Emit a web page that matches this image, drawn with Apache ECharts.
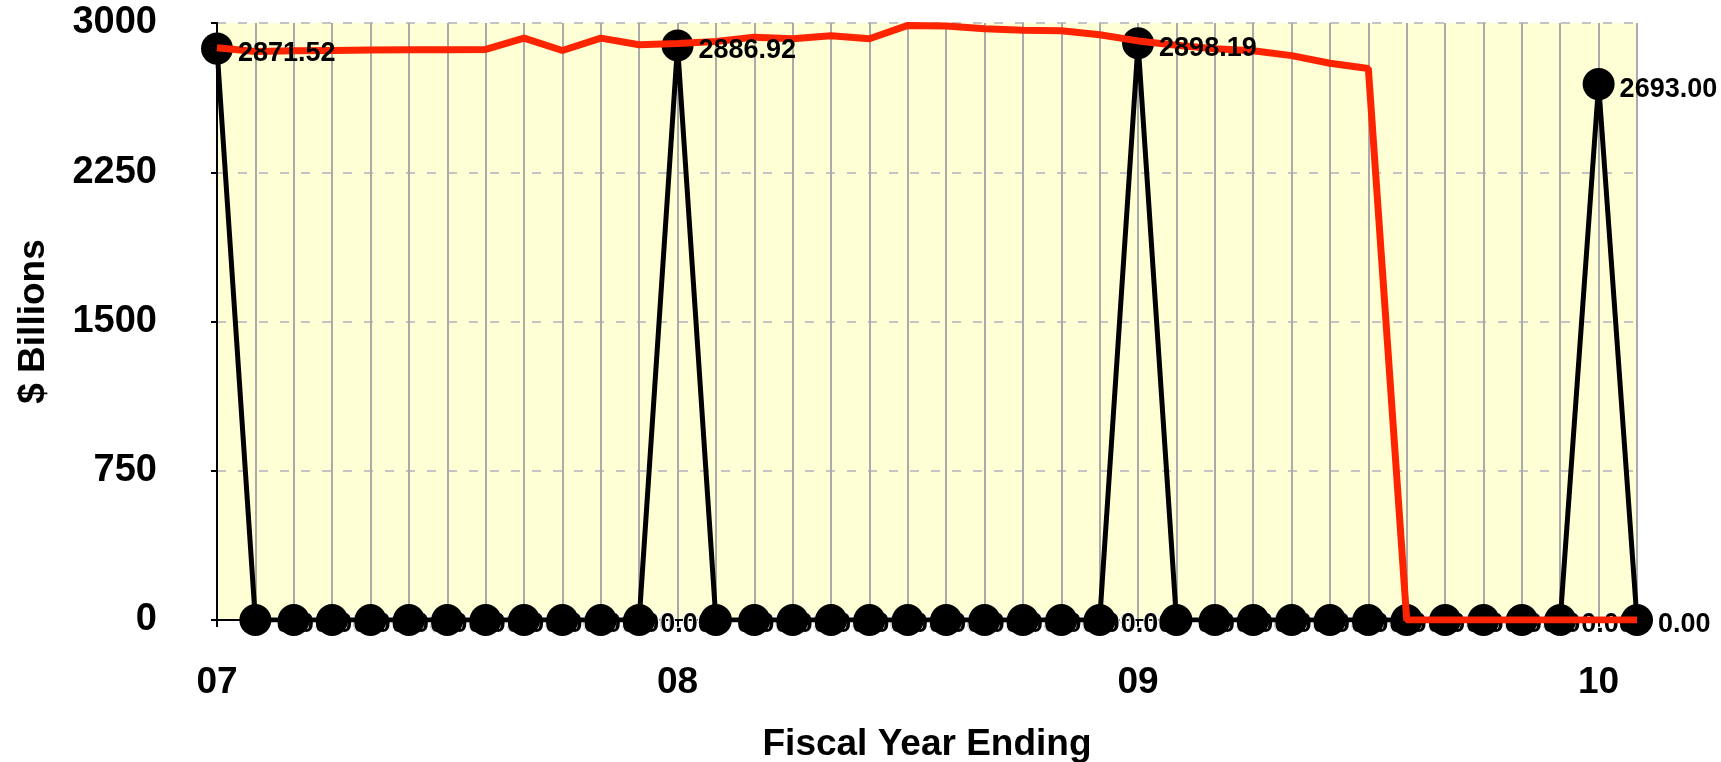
<!DOCTYPE html>
<html>
<head>
<meta charset="utf-8">
<script src="https://cdn.jsdelivr.net/npm/echarts@6/dist/echarts.min.js"></script>
<style>
  html, body { margin: 0; padding: 0; background: #fff; }
  #chart { width: 1721px; height: 762px; }
</style>
</head>
<body>
<div id="chart"></div>
<script>
// monthly points, fiscal years 07 - 10
const categories = [
  '07', '07.1', '07.2', '07.3', '07.4', '07.5', '07.6', '07.7', '07.8', '07.9', '07.10', '07.11',
  '08', '08.1', '08.2', '08.3', '08.4', '08.5', '08.6', '08.7', '08.8', '08.9', '08.10', '08.11',
  '09', '09.1', '09.2', '09.3', '09.4', '09.5', '09.6', '09.7', '09.8', '09.9', '09.10', '09.11',
  '10', '10.1'
]
const tickLabels = ['07', '08', '09', '10']
const yTicks = [0, 750, 1500, 2250, 3000]

// black series: fiscal year totals, zero between them
const fiscalTotals = [
  2871.52, 0, 0, 0, 0, 0, 0, 0, 0, 0, 0, 0,
  2886.92, 0, 0, 0, 0, 0, 0, 0, 0, 0, 0, 0,
  2898.19, 0, 0, 0, 0, 0, 0, 0, 0, 0, 0, 0,
  2693.00, 0
]
// red series: running figure
const runningValues = [
  2876, 2857, 2860, 2862, 2864, 2865, 2866, 2867, 2924, 2862, 2924, 2891,
  2897, 2907, 2929, 2921, 2936, 2921, 2988, 2985, 2971, 2963, 2961, 2941,
  2910, 2888, 2871, 2861, 2836, 2798, 2771, 0, 0, 0, 0, 0, 0, 0
]

const font = 'Liberation Sans, Arial, sans-serif'
const chart = echarts.init(document.getElementById('chart'))

const dotSize = 32
const labelStyle = {
  show: true,
  position: 'right',
  distance: 5,
  offset: [0, 5],
  color: '#000',
  fontFamily: font,
  fontWeight: 'bold',
  fontSize: 27
}

chart.setOption({
  animation: false,
  backgroundColor: '#fff',
  grid: {
    left: 217,
    right: 84,
    top: 23,
    bottom: 142,
    outerBoundsMode: 'none',
    show: true,
    backgroundColor: '#ffffd5',
    borderWidth: 0
  },
  xAxis: {
    type: 'category',
    data: categories,
    boundaryGap: false,
    name: 'Fiscal Year Ending',
    nameLocation: 'middle',
    nameGap: 106,
    nameTextStyle: { color: '#000', fontFamily: font, fontWeight: 'bold', fontSize: 37 },
    axisLine: { lineStyle: { color: '#000', width: 2 } },
    axisTick: {
      show: true,
      length: 7,
      interval: (i) => tickLabels.includes(categories[i]),
      lineStyle: { color: '#000', width: 2 }
    },
    axisLabel: {
      interval: (i) => tickLabels.includes(categories[i]),
      margin: 44,
      color: '#000',
      fontFamily: font,
      fontWeight: 'bold',
      fontSize: 37
    },
    splitLine: { show: true, interval: 0, lineStyle: { color: '#aaaaaa', width: 2 } }
  },
  yAxis: {
    type: 'value',
    min: yTicks[0],
    max: yTicks[yTicks.length - 1],
    interval: yTicks[1] - yTicks[0],
    name: '$ Billions',
    nameLocation: 'middle',
    nameGap: 165,
    nameTextStyle: { color: '#000', fontFamily: font, fontWeight: 'bold', fontSize: 37 },
    axisLine: { show: true, lineStyle: { color: '#000', width: 2 } },
    axisTick: { show: true, length: 6, lineStyle: { color: '#000', width: 2 } },
    axisLabel: {
      margin: 60,
      formatter: (v) => String(v),
      color: '#000',
      fontFamily: font,
      fontWeight: 'bold',
      fontSize: 38
    },
    splitLine: { show: true, lineStyle: { color: '#c4c4c4', width: 2, type: [9, 12] } }
  },
  series: [
    {
      // zero labels, drawn under the dots
      name: 'zeroLabels',
      type: 'line',
      data: fiscalTotals,
      z: 1,
      showAllSymbol: true,
      symbol: 'circle',
      symbolSize: dotSize,
      itemStyle: { color: 'rgba(0,0,0,0)' },
      lineStyle: { opacity: 0 },
      label: Object.assign({}, labelStyle, {
        textBorderColor: '#fff',
        textBorderWidth: 2,
        formatter: (p) => (p.value === 0 ? p.value.toFixed(2) : '')
      })
    },
    {
      name: 'Fiscal Year',
      type: 'line',
      data: fiscalTotals,
      z: 2,
      showAllSymbol: true,
      symbol: 'circle',
      symbolSize: dotSize,
      itemStyle: { color: '#000' },
      lineStyle: { color: '#000', width: 5 },
      label: { show: false }
    },
    {
      name: 'Running',
      type: 'line',
      data: runningValues,
      z: 3,
      symbol: 'none',
      lineStyle: { color: '#ff2400', width: 7 }
    },
    {
      // value labels on top
      name: 'topLabels',
      type: 'line',
      data: fiscalTotals,
      z: 4,
      showAllSymbol: true,
      symbol: 'circle',
      symbolSize: dotSize,
      itemStyle: { color: 'rgba(0,0,0,0)' },
      lineStyle: { opacity: 0 },
      label: Object.assign({}, labelStyle, {
        formatter: (p) => (p.value !== 0 ? p.value.toFixed(2) : '')
      })
    }
  ]
})
</script>
</body>
</html>
